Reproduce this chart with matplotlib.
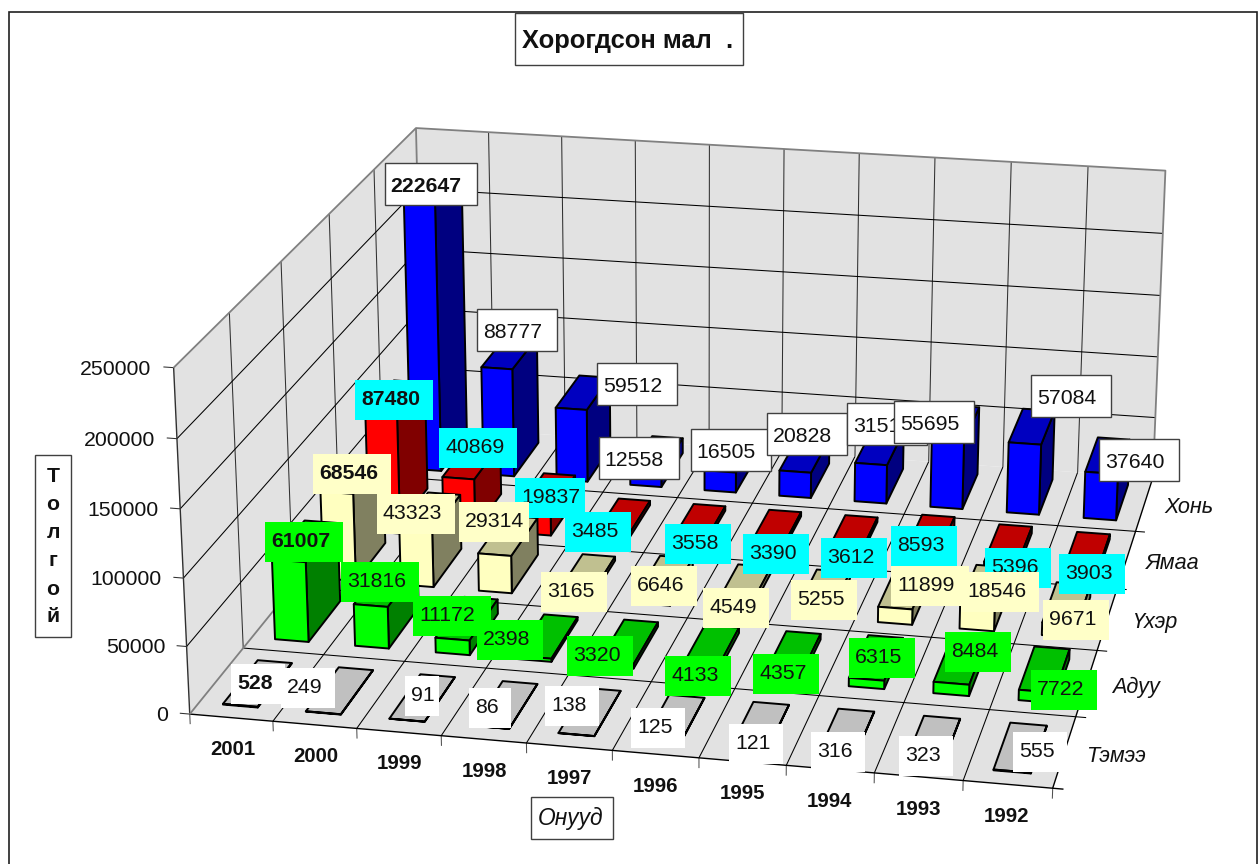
import numpy as np
import matplotlib
matplotlib.use("Agg")
import matplotlib.pyplot as plt
from matplotlib.patches import Rectangle
from mpl_toolkits.mplot3d.art3d import Poly3DCollection, Line3DCollection

# ---------- data ----------
years = ["2001", "2000", "1999", "1998", "1997", "1996", "1995", "1994", "1993", "1992"]
series_names = ["Хонь", "Ямаа", "Үхэр", "Адуу", "Тэмээ"]
khon = [222647, 88777, 59512, 12558, 16505, 20828, 31517, 55695, 57084, 37640]
yamaa = [87480, 40869, 19837, 3485, 3558, 3390, 3612, 8593, 5396, 3903]
ukher = [68546, 43323, 29314, 3165, 6646, 4549, 5255, 11899, 18546, 9671]
aduu = [61007, 31816, 11172, 2398, 3320, 4133, 4357, 6315, 8484, 7722]
temee = [528, 249, 91, 86, 138, 125, 121, 316, 323, 555]
z_ticks = [0, 50000, 100000, 150000, 200000, 250000]

# ---------- styles (front, top, side) ----------
bar_colors = [("#0000FF", "#0000C0", "#000080"),
              ("#FF0000", "#C00000", "#800000"),
              ("#FFFFC0", "#C0C090", "#808060"),
              ("#00FF00", "#00C000", "#008000"),
              ("#FFFFFF", "#C0C0C0", "#808080")]
label_bg = ["#FFFFFF", "#00FFFF", "#FFFFC8", "#00FF00", "#FFFFFF"]
WALL = "#E2E2E2"
FONT = "Liberation Sans"

# ---------- label box layout: left, top, width in pixels ----------
label_boxes = [
    [(384.7, 163.3, 92), (476.7, 309.3, 80), (596.7, 363.3, 80), (598.7, 437.3, 80), (690.7, 429.3, 80),
     (766.7, 413.3, 80), (846.7, 403.3, 80), (894.3, 401.3, 80), (1030.7, 375.3, 80), (1098.7, 439.3, 80)],
    [(355, 380, 78), (439, 428, 78), (515, 478, 70), (565, 512, 66), (665, 524, 66),
     (743, 534, 66), (821, 538, 66), (891, 526, 66), (985, 548, 66), (1059, 554, 66)],
    [(313, 454, 78), (377, 494, 78), (459, 502, 70), (541, 572, 66), (631, 566, 66),
     (703, 588, 66), (791, 580, 66), (891, 566, 78), (961, 572, 78), (1043, 600, 66)],
    [(265, 522, 78), (341, 562, 78), (413, 596, 78), (477, 620, 66), (567, 636, 66),
     (665, 656, 66), (753, 654, 66), (849, 638, 66), (945, 632, 66), (1031, 670, 66)],
    [(231, 664, 54), (281, 668, 54), (405, 676, 34), (469, 688, 42), (545, 686, 54),
     (631, 708, 54), (729, 724, 54), (811, 732, 54), (899, 736, 54), (1013, 732, 54)],
]

all_series = [khon, yamaa, ukher, aduu, temee]
n_x, n_y = len(years), len(series_names)
z_top = z_ticks[-1]
W, H = 1260, 864

# ---------- projective camera fitted on the picture's box corners ----------
world = np.array([
    (0, 0, 0), (0, 0, 25), (0, 5, 0), (0, 5, 25), (10, 5, 25), (10, 5, 0), (10, 0, 0),
    (10, 5, 20), (0, 1, 0), (10, 1, 0), (5, 0, 0), (3, 5, 25), (8, 5, 25), (8, 0, 0), (2, 0, 0)], float)
image = np.array([
    (189, 713), (173.3, 369.3), (423, 428), (417, 127), (1165, 171), (1153, 477), (1053, 789),
    (1163, 233), (243, 647), (1075, 717), (613, 750.7), (635, 140), (1011, 162), (875, 772.7), (357, 727.7)], float)
rows = []
for (a, b, c), (u, v) in zip(world, image):
    rows.append([a, b, c, 1, 0, 0, 0, 0, -u * a, -u * b, -u * c, -u])
    rows.append([0, 0, 0, 0, a, b, c, 1, -v * a, -v * b, -v * c, -v])
P = np.linalg.svd(np.array(rows))[2][-1].reshape(3, 4)
P = P * np.array([1, 1, 1e-4, 1])          # z column back to value units
if P[2] @ np.array([5, 2.5, 0, 1]) < 0:
    P = -P
P = P / (P[2] @ np.array([5, 2.5, 0, 1]))


def project(x, y, z):
    u, v, w = P @ np.array([x, y, z, 1.0])
    return u / w, v / w


fig = plt.figure(figsize=(W / 100, H / 100), dpi=100, facecolor="white")
ax = fig.add_axes([0, 0, 1, 1], projection="3d", computed_zorder=False)
ax.apply_aspect = lambda position=None: None
ax.set_axis_off()


def picture_proj():
    disp = np.vstack([P[0], H * P[2] - P[1], P[2]])
    out = ax.transData.inverted().get_matrix() @ disp
    depth = P[2] - np.array([0, 0, 0, 0.5])
    return np.vstack([out[0], out[1], depth, P[2]])


ax.get_proj = picture_proj

# ---------- walls and floor ----------
walls = [
    [(0, 0, 0), (n_x, 0, 0), (n_x, n_y, 0), (0, n_y, 0)],
    [(0, 0, 0), (0, n_y, 0), (0, n_y, z_top), (0, 0, z_top)],
    [(0, n_y, 0), (n_x, n_y, 0), (n_x, n_y, z_top), (0, n_y, z_top)],
]
ax.add_collection3d(Poly3DCollection(walls, facecolors=WALL, edgecolors="none", zorder=1), autolim=False)


def line(xs, ys, zs, color="black", lw=0.75, zorder=2):
    seg = [list(zip(xs, ys, zs))]
    ax.add_collection3d(Line3DCollection(seg, colors=color, linewidths=lw, zorder=zorder), autolim=False)


tick_x = 0.12
tick_z = -7500
for i in range(1, n_x):
    line([i, i], [0, n_y], [0, 0])
    line([i, i], [n_y, n_y], [0, z_top], color="#303030")
for j in range(1, n_y):
    line([0, n_x + tick_x], [j, j], [0, 0])
    line([0, 0], [j, j], [0, z_top], color="#303030")
for z in z_ticks[1:-1]:
    line([0, 0, n_x], [0, n_y, n_y], [z, z, z])
for z in z_ticks:
    line([-tick_x, 0], [0, 0], [z, z], color="#303030")
for i in range(n_x + 1):
    line([i, i], [0, 0], [tick_z, 0], color="#505050")
# box edges
line([0, n_x + tick_x], [0, 0], [0, 0], lw=1.0)
line([n_x, n_x], [0, n_y], [0, 0], lw=1.0)
line([0, 0], [0, 0], [0, z_top], color="#303030", lw=1.0)
line([0, 0], [0, n_y], [0, 0], color="#808080", lw=1.3)
line([0, 0, n_x, n_x], [0, n_y, n_y, n_y], [z_top, z_top, z_top, 0], color="#808080", lw=1.3)
line([0, 0], [n_y, n_y], [0, z_top], color="#808080", lw=1.3)

# ---------- bars ----------
bw, bd = 0.42, 0.66
for s, vals in enumerate(all_series):
    row = n_y - 1 - s
    for i, v in enumerate(vals):
        x0, x1 = i + (1 - bw) / 2, i + (1 + bw) / 2
        y0, y1 = row + (1 - bd) / 2, row + (1 + bd) / 2
        faces = [
            [(x0, y0, 0), (x1, y0, 0), (x1, y0, v), (x0, y0, v)],
            [(x0, y0, v), (x1, y0, v), (x1, y1, v), (x0, y1, v)],
            [(x1, y0, 0), (x1, y1, 0), (x1, y1, v), (x1, y0, v)],
        ]
        ax.add_collection3d(
            Poly3DCollection(faces, facecolors=list(bar_colors[s]), edgecolors="black", linewidths=1.4,
                             zorder=3 + s + i / 100), autolim=False)


# ---------- figure-level helpers in picture pixels ----------
def box(x, y, w, h, fc="white", ec="none", lw=1.0, z=20):
    fig.add_artist(Rectangle((x / W, 1 - (y + h) / H), w / W, h / H, transform=fig.transFigure, facecolor=fc,
                             edgecolor=ec, linewidth=lw, zorder=z))


def ptext(x, y, s, z=20, **kw):
    fig.text(x / W, 1 - y / H, s, family=FONT, color="#111111", zorder=z, **kw)


# ---------- tick labels ----------
for i, y in enumerate(years):
    px, py = project(i + 0.5, 0, -23500)
    ptext(px, py, y, z=10, ha="center", va="center", fontsize=14.7, fontweight="bold")
for z in z_ticks:
    px, py = project(-0.26, 0, z - 2400)
    ptext(px, py, str(z), z=10, ha="right", va="center", fontsize=15.3)
for j, name in enumerate(series_names):
    px, py = project(n_x + 0.58, n_y - 1 - j + 0.5, 0)
    ptext(px, py, name, z=10, ha="center", va="center", fontsize=15.6, style="italic")

# outer frame
box(9, 12, 1248, 870, fc="none", ec="#202020", lw=1.2, z=0.5)

# ---------- data labels ----------
order = 20.0
for s, vals in enumerate(all_series):
    boxed = s == 0
    h = 42 if boxed else 40
    base = 28.4 if boxed else 25.2
    for i, v in enumerate(vals):
        x, y, w = label_boxes[s][i]
        box(x, y, w, h, fc=label_bg[s], ec="#404040" if boxed else "none", z=order)
        ptext(x + 6, y + base, str(v), z=order + 0.5, ha="left", va="baseline", fontsize=15.3,
              fontweight="bold" if i == 0 else "normal")
        order += 1

# ---------- titles ----------
box(514.7, 13.3, 228, 51.7, ec="#404040", z=200)
ptext(521.5, 47.7, "Хорогдсон мал  .", z=201, ha="left", va="baseline", fontsize=18.4, fontweight="bold")
box(34.7, 455.3, 36, 182, ec="#404040", z=200)
for ch, yy in zip("Толгой", [476, 505, 532.7, 560.7, 589.3, 616.7]):
    ptext(53, yy, ch, z=201, ha="center", va="center", fontsize=15.3, fontweight="bold")
box(530.7, 797.3, 82, 42, ec="#404040", z=200)
ptext(570.5, 818, "Онууд", z=201, ha="center", va="center", fontsize=16.4, style="italic")

fig.savefig("out.png", dpi=100, facecolor="white")
